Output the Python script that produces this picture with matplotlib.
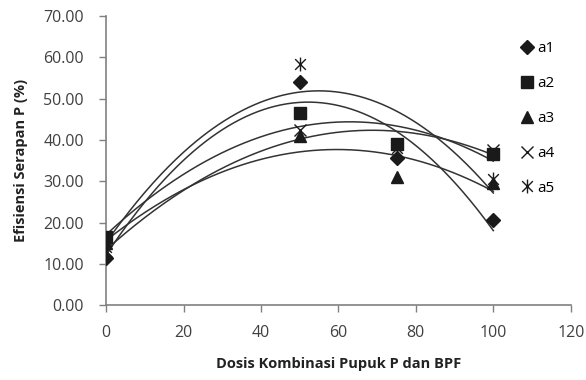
import numpy as np
import matplotlib.pyplot as plt
from matplotlib.path import Path

plt.rcParams['font.family'] = ['Open Sans', 'DejaVu Sans']

# dosis (x) dan efisiensi serapan P (%) per perlakuan
dosis = [0, 50, 75, 100]
a1 = [11.3, 54.0, 35.5, 20.5]
a2 = [16.5, 46.5, 39.0, 36.5]
a3 = [15.0, 41.0, 31.0, 29.5]
a4 = [13.0, 42.5, 39.0, 37.5]
a5 = [14.0, 58.3, 38.0, 30.5]

labels = ['a1', 'a2', 'a3', 'a4', 'a5']

# penanda bintang ala Excel (x + garis tegak)
star = Path([(-1, -1), (1, 1), (-1, 1), (1, -1), (0, -1.3), (0, 1.3)],
            [Path.MOVETO, Path.LINETO] * 3)
markers = ['D', 's', '^', 'x', star]
sizes = [7, 9, 8, 8, 10]

fig = plt.figure(figsize=(5.86, 3.8), dpi=100)
ax = fig.add_axes([0.181, 0.197, 0.793, 0.761])

xs = np.linspace(0, 100, 200)
for vals, lab, mk, ms in zip([a1, a2, a3, a4, a5], labels, markers, sizes):
    # trendline polinomial orde 2
    coef = np.polyfit(dosis, vals, 2)
    ax.plot(xs, np.polyval(coef, xs), color='#333333', lw=1.1, zorder=2)
    ax.plot(dosis, vals, linestyle='none', marker=mk, markersize=ms,
            color='#1a1a1a', markeredgewidth=1.0, label=lab, zorder=3)

ax.set_xlim(0, 120)
ax.set_ylim(0, 70)
ax.set_xticks(range(0, 121, 20))
ax.set_yticks(range(0, 71, 10))
ax.set_yticklabels([f'{v:.2f}' for v in range(0, 71, 10)])
ax.tick_params(labelsize=11.5, colors='#404040', length=5, width=1, color='#808080')
ax.tick_params(axis='y', pad=11)
ax.tick_params(axis='x', pad=9)
for s in ['top', 'right']:
    ax.spines[s].set_visible(False)
for s in ['left', 'bottom']:
    ax.spines[s].set_color('#808080')
    ax.spines[s].set_linewidth(1.2)

ax.set_xlabel('Dosis Kombinasi Pupuk P dan BPF', fontsize=10.5, fontweight='bold',
              color='#222222', labelpad=12)
ax.set_ylabel('Efisiensi Serapan P (%)', fontsize=10.5, fontweight='bold',
              color='#222222', labelpad=11)

ax.legend(loc='upper left', bbox_to_anchor=(0.86, 0.96), frameon=False,
          fontsize=11, handletextpad=0.15, labelspacing=1.3, handlelength=1.0)

fig.savefig('out.png', dpi=100)
